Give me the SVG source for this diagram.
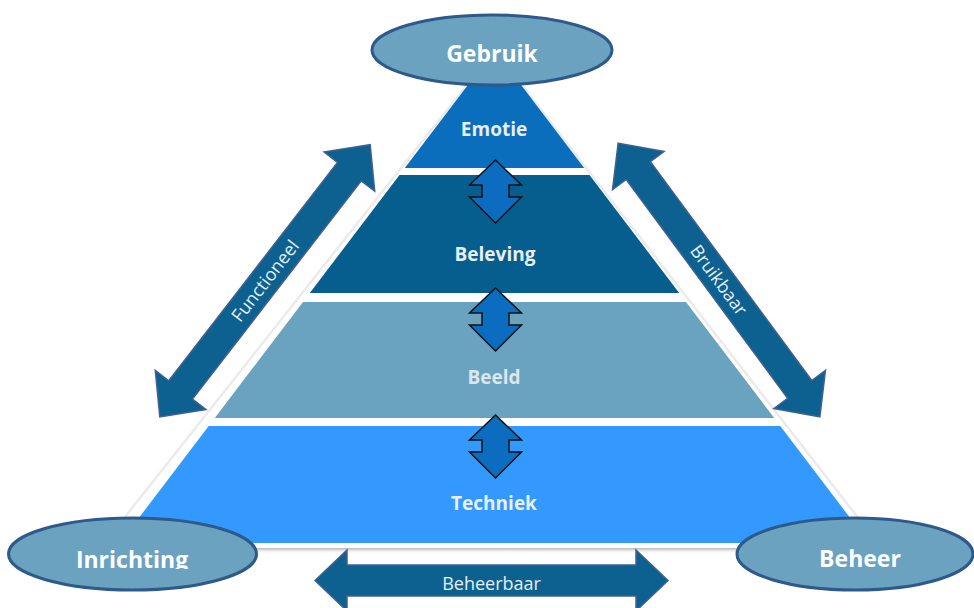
<svg xmlns="http://www.w3.org/2000/svg" width="974" height="608" viewBox="0 0 974 608">
  <defs>
    <style>
      .band-text { font-family: "Open Sans", "Liberation Sans", sans-serif; font-weight: 700; font-size: 19px; fill: #e8eef2; text-anchor: middle; }
      .ell { fill: #6aa2bf; stroke: #2e5a8b; stroke-width: 3; }
      .ell-text { font-family: "Open Sans", "Liberation Sans", sans-serif; font-weight: 700; font-size: 23px; fill: #ffffff; text-anchor: middle; }
      .big-arrow { fill: #0c6190; stroke: #40618f; stroke-width: 1.5; stroke-linejoin: miter; }
      .arrow-text { font-family: "Open Sans", "Liberation Sans", sans-serif; font-size: 18px; fill: #e6eef4; text-anchor: middle; }
      .small-arrow { fill: #0b6cc0; stroke: #111111; stroke-width: 1.5; stroke-linejoin: miter; }
    </style>
    <path id="vArrow" d="M0,0 L26,25 L13.5,25 L13.5,37 L26,37 L0,63 L-26,37 L-13.5,37 L-13.5,25 L-26,25 Z"/>
    <linearGradient id="shadow" x1="0" y1="0" x2="0" y2="1">
      <stop offset="0" stop-color="#b5b5b5"/>
      <stop offset="1" stop-color="#ffffff" stop-opacity="0"/>
    </linearGradient>
    <clipPath id="clipInr">
      <rect x="0" y="500" width="300" height="69"/>
    </clipPath>
  </defs>

  <rect x="0" y="0" width="974" height="608" fill="#ffffff"/>

  <!-- faint outline of pyramid -->
  <polyline points="102,546 494.5,50 880,546" fill="none" stroke="#ebebeb" stroke-width="2.5"/>
  <!-- shadow under base -->
  <rect x="125" y="548" width="740" height="6" fill="url(#shadow)"/>

  <g id="emotie">
    <polygon points="494.5,50 584.2,168 404.8,168" fill="#0a6ebd"/>
    <text class="band-text" x="494" y="136">Emotie</text>
  </g>
  <g id="beleving">
    <polygon points="399.5,175 589.5,175 679.2,293 309.8,293" fill="#055e8d"/>
    <text class="band-text" x="495" y="261">Beleving</text>
  </g>
  <g id="beeld">
    <polygon points="303,302 686,302 774.2,418 214.8,418" fill="#6aa3bf"/>
    <text class="band-text" x="494" y="384" style="fill:#dde6ec">Beeld</text>
  </g>
  <g id="techniek">
    <polygon points="208.7,426 780.3,426 869.2,543 119.8,543" fill="#3399fe"/>
    <text class="band-text" x="494" y="510">Techniek</text>
  </g>

  <g id="connectors">
    <use href="#vArrow" class="small-arrow" x="495.5" y="160"/>
    <use href="#vArrow" class="small-arrow" x="495.5" y="288"/>
    <use href="#vArrow" class="small-arrow" x="495.5" y="415"/>

    <g id="functioneel" transform="translate(265,280.8) rotate(-52.3)">
      <path class="big-arrow" d="M-172,0 L-138,-32 L-138,-15 L138,-15 L138,-32 L172,0 L138,32 L138,15 L-138,15 L-138,32 Z"/>
      <text class="arrow-text" x="0" y="6.5">Functioneel</text>
    </g>
    <g id="bruikbaar" transform="translate(719,280) rotate(53.6)">
      <path class="big-arrow" d="M-170,0 L-136,-32 L-136,-15 L136,-15 L136,-32 L170,0 L136,32 L136,15 L-136,15 L-136,32 Z"/>
      <text class="arrow-text" x="0" y="6.5">Bruikbaar</text>
    </g>
    <g id="beheerbaar">
      <path class="big-arrow" d="M315,580.5 L347,550 L347,565 L636,565 L636,550 L668,580.5 L636,611 L636,596 L347,596 L347,611 Z"/>
      <text class="arrow-text" x="491.5" y="590">Beheerbaar</text>
    </g>
  </g>

  <g id="gebruik">
    <ellipse class="ell" cx="492" cy="50" rx="120" ry="35"/>
    <text class="ell-text" x="492" y="61.5">Gebruik</text>
  </g>
  <g id="inrichting">
    <ellipse class="ell" cx="132.5" cy="554" rx="124" ry="36"/>
    <text class="ell-text" x="132" y="568" clip-path="url(#clipInr)">Inrichting</text>
  </g>
  <g id="beheer">
    <ellipse class="ell" cx="855" cy="554" rx="118" ry="36"/>
    <text class="ell-text" x="860" y="566.5">Beheer</text>
  </g>
</svg>
